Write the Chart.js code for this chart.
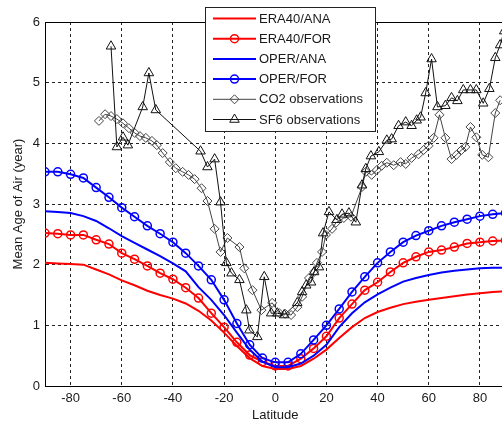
<!DOCTYPE html>
<html><head><meta charset="utf-8">
<script src="https://cdn.jsdelivr.net/npm/chart.js@4"></script>
<style>html,body{margin:0;padding:0;background:#fff;overflow:hidden;width:502px;height:423px}canvas{display:block}</style>
</head><body>
<canvas id="c" width="512" height="423" style="width:512px;height:423px"></canvas>
<script>
const modelLatitudes = [-90,-85,-80,-75,-70,-65,-60,-55,-50,-45,-40,-35,-30,-25,-20,-15,-10,-5,0,5,10,15,20,25,30,35,40,45,50,55,60,65,70,75,80,85,90];
const era40Ana = [2.03,2.02,2.01,2.00,1.92,1.84,1.74,1.66,1.57,1.50,1.44,1.36,1.24,1.08,0.88,0.66,0.46,0.33,0.28,0.28,0.33,0.45,0.60,0.79,0.97,1.12,1.22,1.29,1.35,1.39,1.42,1.45,1.48,1.51,1.53,1.55,1.56];
const era40For = [2.52,2.51,2.49,2.49,2.41,2.34,2.19,2.09,1.98,1.86,1.76,1.62,1.45,1.20,0.97,0.72,0.51,0.40,0.33,0.33,0.45,0.62,0.82,1.12,1.35,1.58,1.71,1.88,2.03,2.13,2.21,2.24,2.29,2.35,2.37,2.39,2.40];
const operAna = [2.88,2.87,2.85,2.80,2.72,2.60,2.47,2.36,2.25,2.14,2.02,1.89,1.63,1.42,1.17,0.88,0.60,0.40,0.31,0.31,0.37,0.50,0.68,0.97,1.20,1.38,1.51,1.62,1.72,1.78,1.83,1.87,1.90,1.92,1.94,1.95,1.95];
const operFor = [3.53,3.53,3.49,3.43,3.27,3.11,2.94,2.79,2.64,2.51,2.37,2.19,1.98,1.75,1.42,1.03,0.68,0.46,0.39,0.39,0.53,0.76,1.00,1.27,1.55,1.80,2.03,2.21,2.37,2.48,2.56,2.64,2.70,2.75,2.80,2.83,2.85];
const co2Latitudes = [-68.9,-66.5,-64.2,-61.9,-59.5,-57.2,-54.9,-52.9,-50.6,-48.2,-46.3,-44.0,-41.2,-38.9,-36.2,-33.9,-31.5,-28.8,-26.5,-23.7,-21.4,-18.7,-14.0,-12.1,-8.9,-5.4,-1.2,1.6,3.9,6.2,8.6,10.5,13.2,15.2,16.3,18.3,19.8,22.2,23.7,26.8,29.6,33.9,35.4,37.7,39.7,41.6,43.6,46.3,49.0,51.0,53.3,56.0,58.0,59.9,61.9,64.2,66.5,68.9,70.8,72.8,74.3,76.3,78.6,80.9,83.3,86.0,87.9];
const co2Values = [4.37,4.48,4.45,4.40,4.33,4.25,4.17,4.12,4.09,4.04,3.97,3.84,3.69,3.59,3.53,3.48,3.41,3.26,3.05,2.59,2.21,2.44,2.29,1.94,1.58,1.25,1.37,1.20,1.19,1.17,1.30,1.47,1.78,1.88,2.03,2.21,2.49,2.59,2.69,2.77,2.79,3.28,3.53,3.48,3.56,3.63,3.68,3.64,3.69,3.66,3.76,3.82,3.89,3.96,4.09,4.47,4.09,3.74,3.81,3.89,3.94,4.27,4.10,3.81,3.77,4.50,4.71];
const sf6Latitudes = [-64.2,-61.9,-59.5,-57.6,-51.8,-49.4,-46.7,-29.2,-26.5,-23.7,-21.4,-19.1,-17.1,-14.0,-11.3,-10.1,-7.0,-4.3,-1.6,0.8,3.5,8.6,10.5,12.1,14.0,15.2,17.1,18.7,21.0,24.1,26.1,28.8,31.5,33.9,35.4,37.4,40.5,43.6,45.5,48.2,51.0,53.3,55.3,56.8,58.8,61.1,63.4,66.5,68.9,71.2,73.5,76.3,78.6,81.3,83.7,86.0,87.9,89.5];
const sf6Values = [5.60,3.94,4.10,3.97,4.60,5.16,4.55,3.87,3.61,3.74,3.03,2.03,1.86,1.75,1.25,0.92,0.81,1.80,1.20,1.20,1.17,1.37,1.55,1.66,1.71,1.88,1.96,2.52,2.87,2.74,2.83,2.85,2.70,3.31,3.58,3.79,3.86,4.05,4.07,4.29,4.35,4.29,4.38,4.43,4.83,5.39,4.60,4.62,4.75,4.70,4.88,4.88,4.88,4.66,4.90,5.41,5.62,5.85];
const xTicks = [-80,-60,-40,-20,0,20,40,60,80];
const yTicks = [0,1,2,3,4,5,6];
const seriesNames = ['ERA40/ANA','ERA40/FOR','OPER/ANA','OPER/FOR','CO2 observations','SF6 observations'];
const xTitle = 'Latitude';
const yTitle = 'Mean Age of Air (year)';

const FONT = "'Liberation Sans', Arial, sans-serif";
const pts = (xs, ys) => xs.map((x, i) => ({x, y: ys[i]}));

function ds(label, data, color, width, style, radius, order, bw) {
  return {
    label, data: data, borderColor: color, borderWidth: width,
    pointStyle: style || 'circle', pointRadius: style ? radius : 0,
    pointBorderColor: color, pointBackgroundColor: 'rgba(0,0,0,0)',
    pointBorderWidth: bw || 1.5, tension: 0, fill: false, order: order
  };
}

const datasets = [
  ds(seriesNames[0], pts(modelLatitudes, era40Ana), '#ff0000', 2, null, 0, 5),
  ds(seriesNames[1], pts(modelLatitudes, era40For), '#ff0000', 2, 'circle', 4, 4, 1.5),
  ds(seriesNames[2], pts(modelLatitudes, operAna), '#0000ff', 2, null, 0, 3),
  ds(seriesNames[3], pts(modelLatitudes, operFor), '#0000ff', 2, 'circle', 4, 2, 1.5),
  ds(seriesNames[4], pts(co2Latitudes, co2Values), '#444444', 1, 'rectRot', 4.5, 1, 1),
  ds(seriesNames[5], pts(sf6Latitudes, sf6Values), '#111111', 1, 'triangle', 5.5, 0, 1)
];

const boxLegend = {
  id: 'boxLegend',
  afterDraw(chart) {
    const ctx = chart.ctx, ca = chart.chartArea;
    ctx.save();
    ctx.strokeStyle = '#000'; ctx.lineWidth = 1; ctx.setLineDash([]);
    ctx.beginPath(); ctx.moveTo(ca.left, Math.round(ca.top) + 0.5); ctx.lineTo(ca.right, Math.round(ca.top) + 0.5); ctx.stroke();
    const bx = 205.5, by = 7.5, bw = 170, bh = 124;
    ctx.fillStyle = '#fff'; ctx.fillRect(bx, by, bw, bh);
    ctx.strokeStyle = '#222'; ctx.strokeRect(bx, by, bw, bh);
    chart.data.datasets.forEach((d, i) => {
      const y = 18.5 + i * 20.2;
      ctx.strokeStyle = d.borderColor; ctx.lineWidth = d.borderWidth;
      ctx.beginPath(); ctx.moveTo(213, y); ctx.lineTo(256, y); ctx.stroke();
      if (d.pointRadius > 0) {
        ctx.lineWidth = d.pointBorderWidth; ctx.strokeStyle = d.pointBorderColor;
        ctx.fillStyle = 'rgba(0,0,0,0)';
        Chart.helpers.drawPoint(ctx, {pointStyle: d.pointStyle, radius: d.pointRadius, borderWidth: d.pointBorderWidth, rotation: 0}, 234.5, y);
      }
      ctx.fillStyle = '#1a1a1a'; ctx.font = '13px ' + FONT;
      ctx.textBaseline = 'middle'; ctx.textAlign = 'left';
      ctx.fillText(d.label, 259, y + 0.5);
    });
    ctx.restore();
  }
};

new Chart(document.getElementById('c'), {
  type: 'line',
  data: { datasets },
  plugins: [boxLegend],
  options: {
    responsive: false, animation: false, devicePixelRatio: 1,
    layout: { padding: { left: 0, right: 5, top: 22, bottom: 0 } },
    plugins: { legend: { display: false }, tooltip: { enabled: false } },
    scales: {
      x: {
        type: 'linear', min: -90, max: 90,
        afterBuildTicks: s => { s.ticks = xTicks.map(v => ({value: v})); },
        afterFit: s => { s.height = 37; },
        ticks: { font: { family: FONT, size: 13 }, color: '#1a1a1a', padding: 5, maxRotation: 0, autoSkip: false },
        grid: { color: '#222', lineWidth: 1, drawTicks: false },
        border: { display: true, color: '#000', width: 1, dash: [3, 3] },
        title: { display: true, text: xTitle, font: { family: FONT, size: 13 }, color: '#1a1a1a', padding: { top: 0, bottom: 0 } }
      },
      y: {
        type: 'linear', min: 0, max: 6,
        afterBuildTicks: s => { s.ticks = yTicks.map(v => ({value: v})); },
        afterFit: s => { s.width = 45; },
        ticks: { font: { family: FONT, size: 13 }, color: '#1a1a1a', padding: 5 },
        grid: { color: '#222', lineWidth: 1, drawTicks: false },
        border: { display: true, color: '#000', width: 1, dash: [3, 3] },
        title: { display: true, text: yTitle, font: { family: FONT, size: 13 }, color: '#1a1a1a', padding: { top: 11, bottom: 0 } }
      }
    }
  }
});
</script>
</body></html>
